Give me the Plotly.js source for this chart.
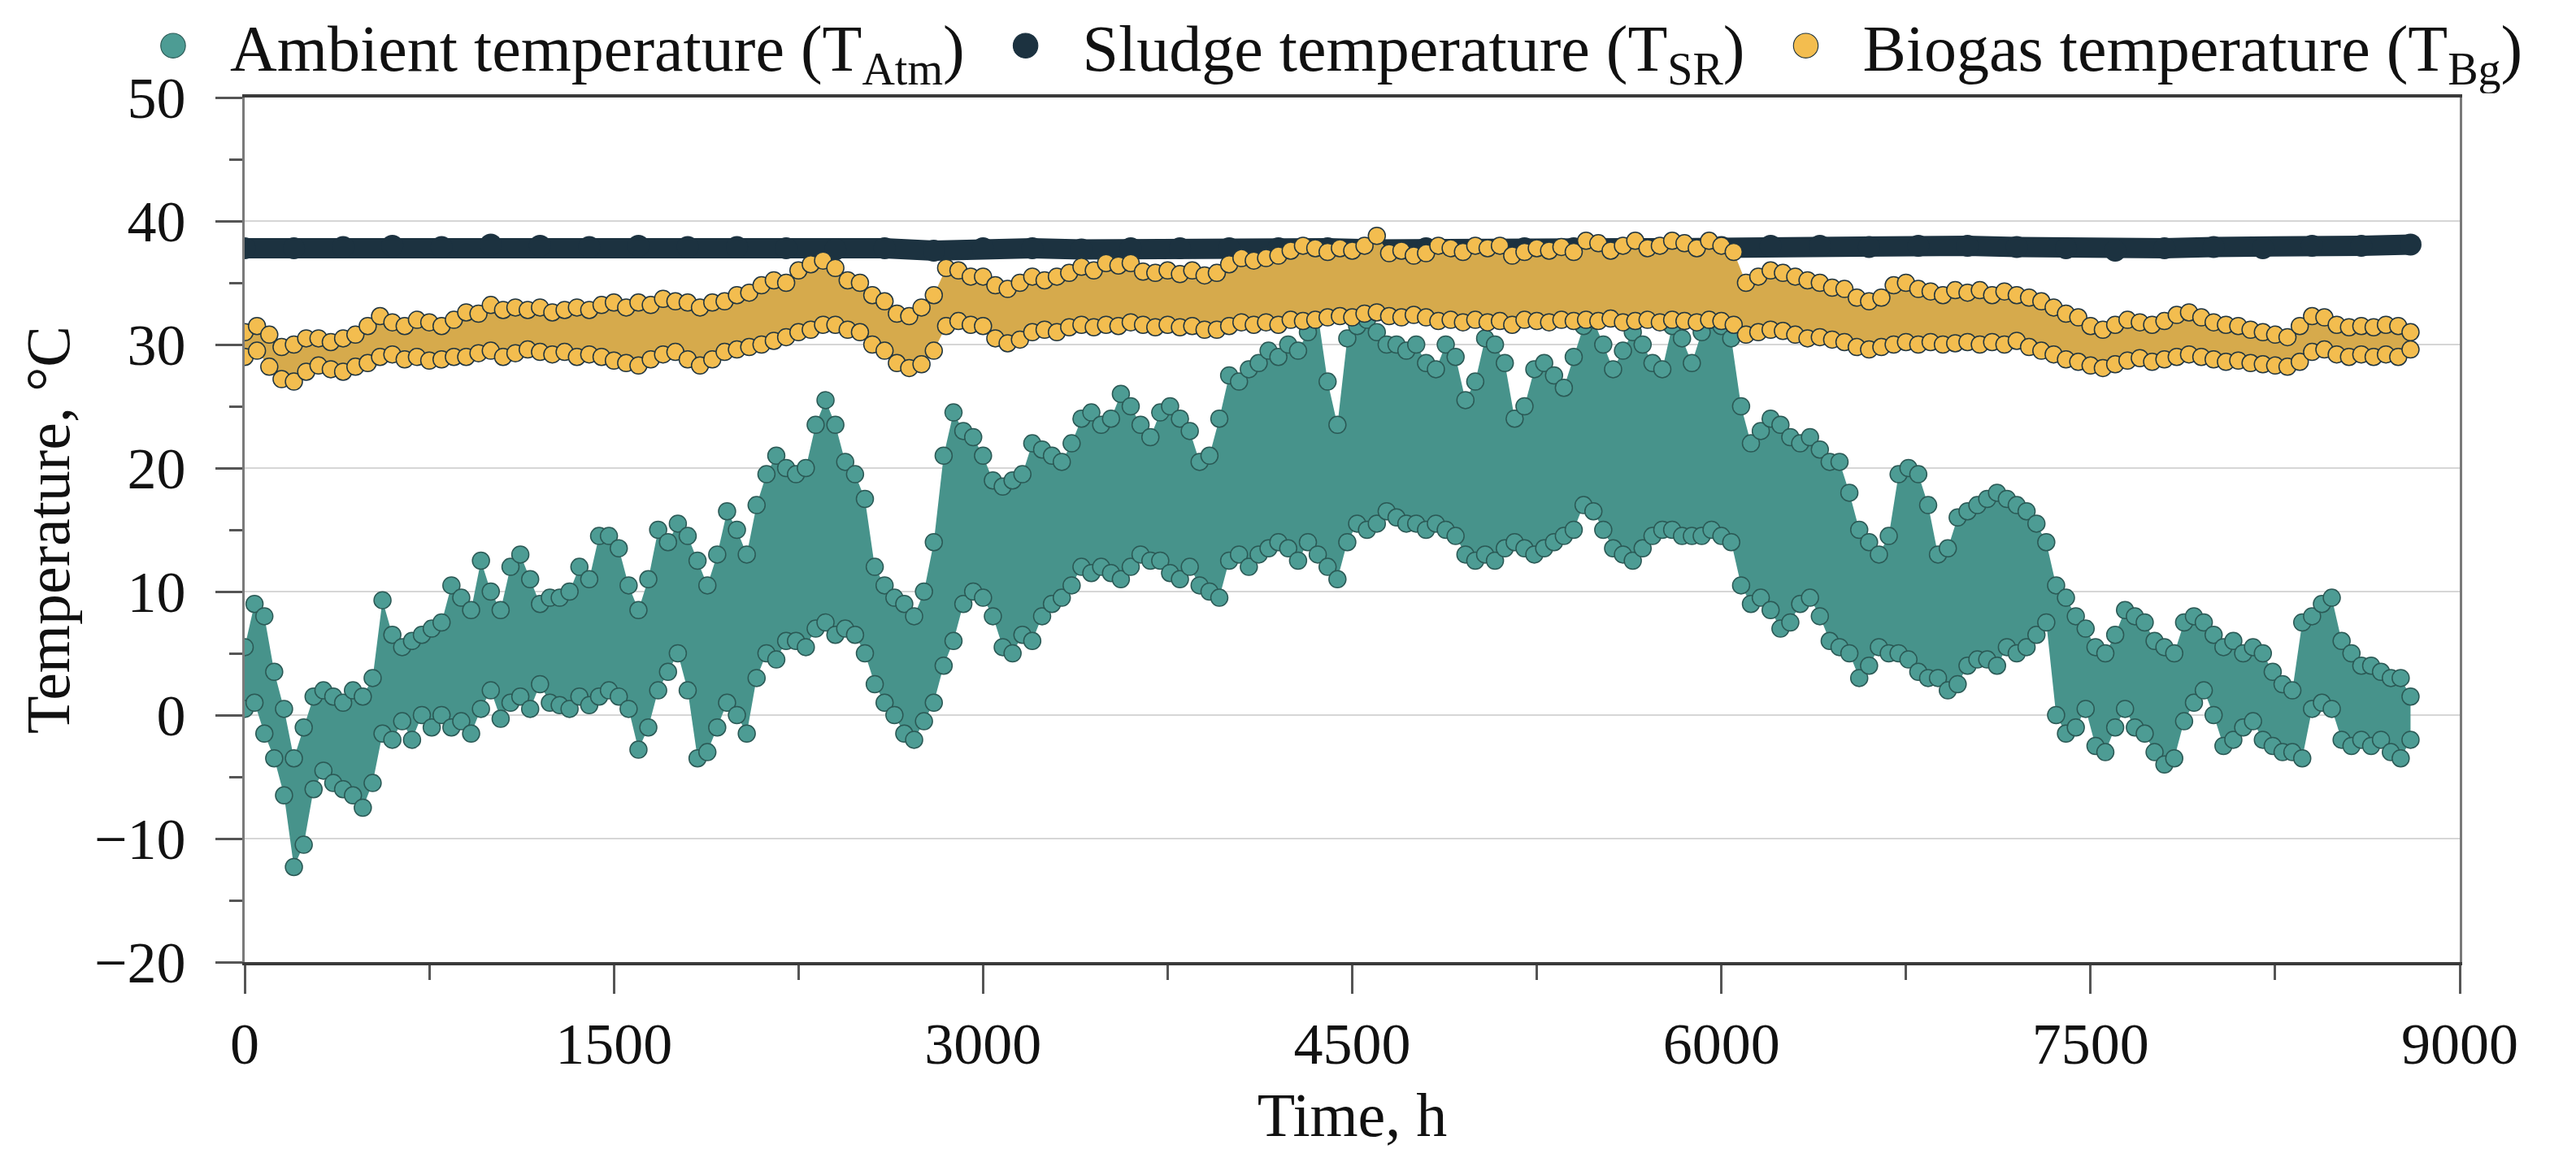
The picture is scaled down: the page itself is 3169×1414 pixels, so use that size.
<!DOCTYPE html>
<html>
<head>
<meta charset="utf-8">
<script src="https://cdn.plot.ly/plotly-3.0.1.min.js"></script>
<style>
  body { margin: 0; background: #fff; }
  #chart { width: 3169px; height: 1414px; }
</style>
</head>
<body>
<div id="chart"></div>
<script>
// values
// ambient: upper / lower edge of the daily swing, one reading every 40 h from 0 h
var ambStep = 40;
var ambHigh = [
  5.5, 9.0, 8.0, 3.5, 0.5, -3.5, -1.0, 1.5, 2.0, 1.5,
  1.0, 2.0, 1.5, 3.0, 9.3, 6.5, 5.5, 6.0, 6.5, 7.0,
  7.5, 10.5, 9.5, 8.5, 12.5, 10.0, 8.5, 12.0, 13.0, 11.0,
  9.0, 9.5, 9.5, 10.0, 12.0, 11.0, 14.5, 14.5, 13.5, 10.5,
  8.5, 11.0, 15.0, 14.0, 15.5, 14.5, 12.5, 10.5, 13.0, 16.5,
  15.0, 13.0, 17.0, 19.5, 21.0, 20.0, 19.5, 20.0, 23.5, 25.5,
  23.5, 20.5, 19.5, 17.5, 12.0, 10.5, 9.5, 9.0, 8.0, 10.0,
  14.0, 21.0, 24.5, 23.0, 22.5, 21.0, 19.0, 18.5, 19.0, 19.5,
  22.0, 21.5, 21.0, 20.5, 22.0, 24.0, 24.5, 23.5, 24.0, 26.0,
  25.0, 23.5, 22.5, 24.5, 25.0, 24.0, 23.0, 20.5, 21.0, 24.0,
  27.5, 27.0, 28.0, 28.5, 29.5, 29.0, 30.0, 29.5, 31.0, 32.5,
  27.0, 23.5, 30.5, 31.5, 32.0, 31.0, 30.0, 30.0, 29.5, 30.0,
  28.5, 28.0, 30.0, 29.0, 25.5, 27.0, 30.5, 30.0, 28.5, 24.0,
  25.0, 28.0, 28.5, 27.5, 26.5, 29.0, 31.5, 32.0, 30.0, 28.0,
  29.5, 31.0, 30.0, 28.5, 28.0, 31.5, 30.5, 28.5, 31.0, 32.0,
  31.5, 30.5, 25.0, 22.0, 23.0, 24.0, 23.5, 22.5, 22.0, 22.5,
  21.5, 20.5, 20.5, 18.0, 15.0, 14.0, 13.0, 14.5, 19.5, 20.0,
  19.5, 17.0, 13.0, 13.5, 16.0, 16.5, 17.0, 17.5, 18.0, 17.5,
  17.0, 16.5, 15.5, 14.0, 10.5, 9.5, 8.0, 7.0, 5.5, 5.0,
  6.5, 8.5, 8.0, 7.5, 6.0, 5.5, 5.0, 7.5, 8.0, 7.5,
  6.5, 5.5, 6.0, 5.0, 5.5, 5.0, 3.5, 2.5, 2.0, 7.5,
  8.0, 9.0, 9.5, 6.0, 5.0, 4.0, 4.0, 3.5, 3.0, 3.0,
  1.5
];
var ambLow = [
  0.5, 1.0, -1.5, -3.5, -6.5, -12.3, -10.5, -6.0, -4.5, -5.5,
  -6.0, -6.5, -7.5, -5.5, -1.5, -2.0, -0.5, -2.0, 0.0, -1.0,
  0.0, -1.0, -0.5, -1.5, 0.5, 2.0, -0.3, 1.0, 1.5, 0.5,
  2.5, 1.0, 0.8, 0.5, 1.5, 0.8, 1.5, 2.0, 1.5, 0.5,
  -2.8, -1.0, 2.0, 3.5, 5.0, 2.0, -3.5, -3.0, -1.0, 1.0,
  0.0, -1.5, 3.0, 5.0, 4.5, 6.0, 6.0, 5.5, 7.0, 7.5,
  6.5, 7.0, 6.5, 5.0, 2.5, 1.0, 0.0, -1.5, -2.0, -0.5,
  1.0, 4.0, 6.0, 9.0, 10.0, 9.5, 8.0, 5.5, 5.0, 6.5,
  6.0, 8.0, 9.0, 9.5, 10.5, 12.0, 11.5, 12.0, 11.5, 11.0,
  12.0, 13.0, 12.5, 12.5, 11.5, 11.0, 12.0, 10.5, 10.0, 9.5,
  12.5, 13.0, 12.0, 13.0, 13.5, 14.0, 13.5, 12.5, 14.0, 13.0,
  12.0, 11.0, 14.0, 15.5, 15.0, 15.5, 16.5, 16.0, 15.5, 15.5,
  15.0, 15.5, 15.0, 14.5, 13.0, 12.5, 13.0, 12.5, 13.5, 14.0,
  13.5, 13.0, 13.5, 14.0, 14.5, 15.0, 17.0, 16.5, 15.0, 13.5,
  13.0, 12.5, 13.5, 14.5, 15.0, 15.0, 14.5, 14.5, 14.5, 15.0,
  14.5, 14.0, 10.5, 9.0, 9.5, 8.5, 7.0, 7.5, 9.0, 9.5,
  8.0, 6.0, 5.5, 5.0, 3.0, 4.0, 5.5, 5.0, 5.0, 4.5,
  3.5, 3.0, 3.0, 2.0, 2.5, 4.0, 4.5, 4.5, 4.0, 5.5,
  5.0, 5.5, 6.5, 7.5, 0.0, -1.5, -1.0, 0.5, -2.5, -3.0,
  -1.0, 0.5, -1.0, -1.5, -3.0, -4.0, -3.5, -0.5, 1.0, 2.0,
  0.0, -2.5, -2.0, -1.0, -0.5, -2.0, -2.5, -3.0, -3.0, -3.5,
  0.5, 1.0, 0.5, -2.0, -2.5, -2.0, -2.5, -2.0, -3.0, -3.5,
  -2.0
];

// biogas: upper / lower edge, one reading every 50 h from 0 h
var bgStep = 50;
var bgHigh = [
  31.0, 31.5, 30.8, 29.8, 30.0, 30.5, 30.5, 30.2, 30.5, 30.8,
  31.5, 32.3, 31.8, 31.5, 32.0, 31.8, 31.5, 32.0, 32.6, 32.5,
  33.2, 32.8, 33.0, 32.8, 33.0, 32.6, 32.8, 33.0, 32.8, 33.2,
  33.4, 33.0, 33.4, 33.2, 33.7, 33.5, 33.4, 33.0, 33.4, 33.5,
  34.0, 34.2, 34.8, 35.2, 35.0, 36.0, 36.5, 36.8, 36.2, 35.2,
  35.0, 34.0, 33.5, 32.5, 32.3, 33.0, 34.0, 36.2, 36.0, 35.5,
  35.5, 34.8, 34.5, 35.0, 35.5, 35.2, 35.5, 35.8, 36.3, 36.0,
  36.6, 36.4, 36.6, 35.9, 35.8, 36.0, 35.7, 36.0, 35.6, 35.8,
  36.5, 37.0, 36.8, 37.0, 37.2, 37.6, 38.0, 37.8, 37.5, 37.8,
  37.6, 38.0, 38.8, 37.4, 37.6, 37.2, 37.4, 38.0, 37.8, 37.5,
  38.0, 37.8, 38.0, 37.2, 37.5, 37.8, 37.6, 37.9, 37.5, 38.4,
  38.2, 37.6, 38.0, 38.4, 37.8, 38.0, 38.4, 38.2, 37.8, 38.4,
  38.0, 37.5, 35.0, 35.5, 36.0, 35.8, 35.5, 35.2, 35.0, 34.6,
  34.5, 33.8, 33.5, 33.8, 34.8, 35.0, 34.5, 34.3, 34.0, 34.4,
  34.2, 34.4, 34.0, 34.3, 34.0, 33.8, 33.5, 33.0, 32.5, 32.2,
  31.5, 31.2, 31.6, 32.0, 31.8, 31.6, 31.9, 32.4, 32.6, 32.2,
  31.8, 31.6, 31.5, 31.2, 31.0, 30.8, 30.6, 31.5, 32.3, 32.2,
  31.6, 31.4, 31.5, 31.4, 31.6, 31.5, 31.0
];
var bgLow = [
  29.0, 29.5, 28.2, 27.2, 27.0, 27.8, 28.3, 28.0, 27.8, 28.2,
  28.5, 29.0, 29.2, 28.8, 29.0, 28.7, 28.8, 29.0, 29.0, 29.3,
  29.5, 29.0, 29.3, 29.6, 29.4, 29.2, 29.4, 29.0, 29.2, 29.0,
  28.7, 28.5, 28.3, 28.8, 29.2, 29.4, 28.8, 28.3, 28.8, 29.4,
  29.6, 29.8, 30.0, 30.3, 30.6, 31.0, 31.2, 31.6, 31.6, 31.2,
  31.0, 30.0, 29.5, 28.5, 28.1, 28.4, 29.5, 31.5, 31.9, 31.6,
  31.5, 30.5, 30.1, 30.4, 31.0, 31.2, 31.0, 31.4, 31.6, 31.4,
  31.6, 31.5, 31.8, 31.6, 31.4, 31.6, 31.4, 31.5, 31.2, 31.2,
  31.5, 31.8, 31.6, 31.8, 31.6, 32.0, 31.9, 32.0, 32.2, 32.3,
  32.2, 32.5, 32.6, 32.3, 32.2, 32.4, 32.2, 31.9, 32.0, 31.8,
  32.0, 31.8, 31.9, 31.6, 32.0, 31.9, 31.8, 32.0, 31.9, 32.0,
  31.9, 32.1, 31.8, 31.9, 32.0, 31.8, 32.0, 31.9, 31.8, 32.0,
  31.9, 31.6, 30.8, 31.0, 31.2, 31.1, 30.8, 30.5, 30.6, 30.4,
  30.2, 29.8, 29.6, 29.8, 30.0, 30.2, 30.0, 30.2, 30.0, 30.1,
  30.2, 30.0, 30.2, 30.0, 30.3, 29.8, 29.5, 29.2, 28.8, 28.6,
  28.3, 28.1, 28.4, 28.7, 28.9, 28.6, 28.8, 29.0, 29.2, 29.0,
  28.8, 28.6, 28.7, 28.5, 28.4, 28.3, 28.2, 28.6, 29.4, 29.6,
  29.2, 29.0, 29.2, 29.0, 29.2, 29.0, 29.6
];

// sludge: nearly flat, one reading every 200 h from 0 h
var srStep = 200;
var srTemp = [
  37.8, 37.8, 37.9, 38.0, 37.9, 38.1, 38.0, 37.9, 38.0, 37.9,
  37.9, 37.8, 37.7, 37.8, 37.6, 37.8, 37.8, 37.7, 37.8, 37.8,
  37.8, 37.8, 37.8, 37.7, 37.8, 37.8, 37.8, 37.8, 37.8, 37.8,
  37.9, 38.0, 38.0, 37.9, 38.0, 38.0, 37.9, 37.8, 37.6, 37.8,
  37.9, 37.8, 38.0, 38.0, 38.1
];

var names = [
  'Ambient temperature (T<sub>Atm</sub>)',
  'Sludge temperature (T<sub>SR</sub>)',
  'Biogas temperature (T<sub>Bg</sub>)'
];

var teal = '#4d9c94', tealEdge = '#2b5955', tealFill = '#47938b';
var navy = '#1c3240';
var gold = '#f3bd4f', goldEdge = '#203540', goldFill = '#d6aa4c';
var dotSize = 21;

function legendDot(name, color, edge){
  return {
    x: [null], y: [null], type: 'scatter', mode: 'markers', name: name,
    marker: {size: 16, color: color, line: {color: edge, width: 0.6}},
    hoverinfo: 'skip'
  };
}

function edgeLine(y, step, fill, fillcolor){
  return {
    x0: 0, dx: step, y: y, type: 'scatter', mode: 'lines',
    line: {width: 0, color: 'rgba(0,0,0,0)'},
    fill: fill, fillcolor: fillcolor,
    showlegend: false, hoverinfo: 'skip'
  };
}

function edgeDots(y, step, color, edge){
  return {
    x0: 0, dx: step, y: y, type: 'scatter', mode: 'markers',
    marker: {size: dotSize, color: color, line: {color: edge, width: 1.5}},
    showlegend: false, hoverinfo: 'skip'
  };
}

var data = [
  legendDot(names[0], teal, tealEdge),
  legendDot(names[1], navy, navy),
  legendDot(names[2], gold, goldEdge),

  edgeLine(ambLow, ambStep, 'none', null),
  edgeLine(ambHigh, ambStep, 'tonexty', tealFill),
  edgeDots(ambLow, ambStep, teal, tealEdge),
  edgeDots(ambHigh, ambStep, teal, tealEdge),

  {
    x0: 0, dx: srStep, y: srTemp, type: 'scatter', mode: 'lines+markers',
    line: {width: 25, color: navy},
    marker: {size: 27, color: navy},
    showlegend: false, hoverinfo: 'skip'
  },

  edgeLine(bgLow, bgStep, 'none', null),
  edgeLine(bgHigh, bgStep, 'tonexty', goldFill),
  edgeDots(bgLow, bgStep, gold, goldEdge),
  edgeDots(bgHigh, bgStep, gold, goldEdge)
];

var tickCol = '#555';

var layout = {
  width: 3169,
  height: 1414,
  margin: {l: 301, r: 143, t: 120, b: 230, autoexpand: false},
  paper_bgcolor: '#ffffff',
  plot_bgcolor: '#ffffff',
  font: {family: 'Liberation Serif, serif', size: 72, color: '#111111'},
  showlegend: true,
  legend: {
    orientation: 'h',
    traceorder: 'normal',
    x: -0.058, xanchor: 'left',
    y: 1.005, yanchor: 'bottom',
    itemwidth: 130,
    font: {size: 80},
    bgcolor: 'rgba(0,0,0,0)'
  },
  xaxis: {
    range: [0, 9000],
    tick0: 0, dtick: 1500,
    ticks: 'outside', ticklen: 35, tickwidth: 3, tickcolor: tickCol,
    ticklabelstandoff: 0,
    minor: {dtick: 750, ticks: 'outside', ticklen: 18, tickwidth: 3, tickcolor: tickCol, showgrid: false},
    showline: true, linecolor: '#3a3a3a', linewidth: 4, mirror: true,
    showgrid: false, zeroline: false,
    title: {text: 'Time, h', font: {size: 76}, standoff: 34}
  },
  yaxis: {
    range: [-20, 50],
    tick0: 0, dtick: 10,
    ticks: 'outside', ticklen: 33, tickwidth: 3, tickcolor: tickCol,
    ticklabelstandoff: 22,
    minor: {dtick: 5, ticks: 'outside', ticklen: 16, tickwidth: 3, tickcolor: tickCol, showgrid: false},
    showline: true, linecolor: '#7a7a7a', linewidth: 3, mirror: true,
    showgrid: true, gridcolor: '#d6d6d6', gridwidth: 2,
    zeroline: false,
    title: {text: 'Temperature, °C', font: {size: 76}, standoff: 6}
  }
};

Plotly.newPlot('chart', data, layout, {staticPlot: true}).then(function(gd){
  // plotly caps legend symbols at 16px, the reference uses bigger dots
  gd.querySelectorAll('.legend .legendpoints path').forEach(function(p){
    var t = p.getAttribute('transform') || '';
    p.setAttribute('transform', t + ' scale(1.9)');
  });
});
</script>
</body>
</html>
